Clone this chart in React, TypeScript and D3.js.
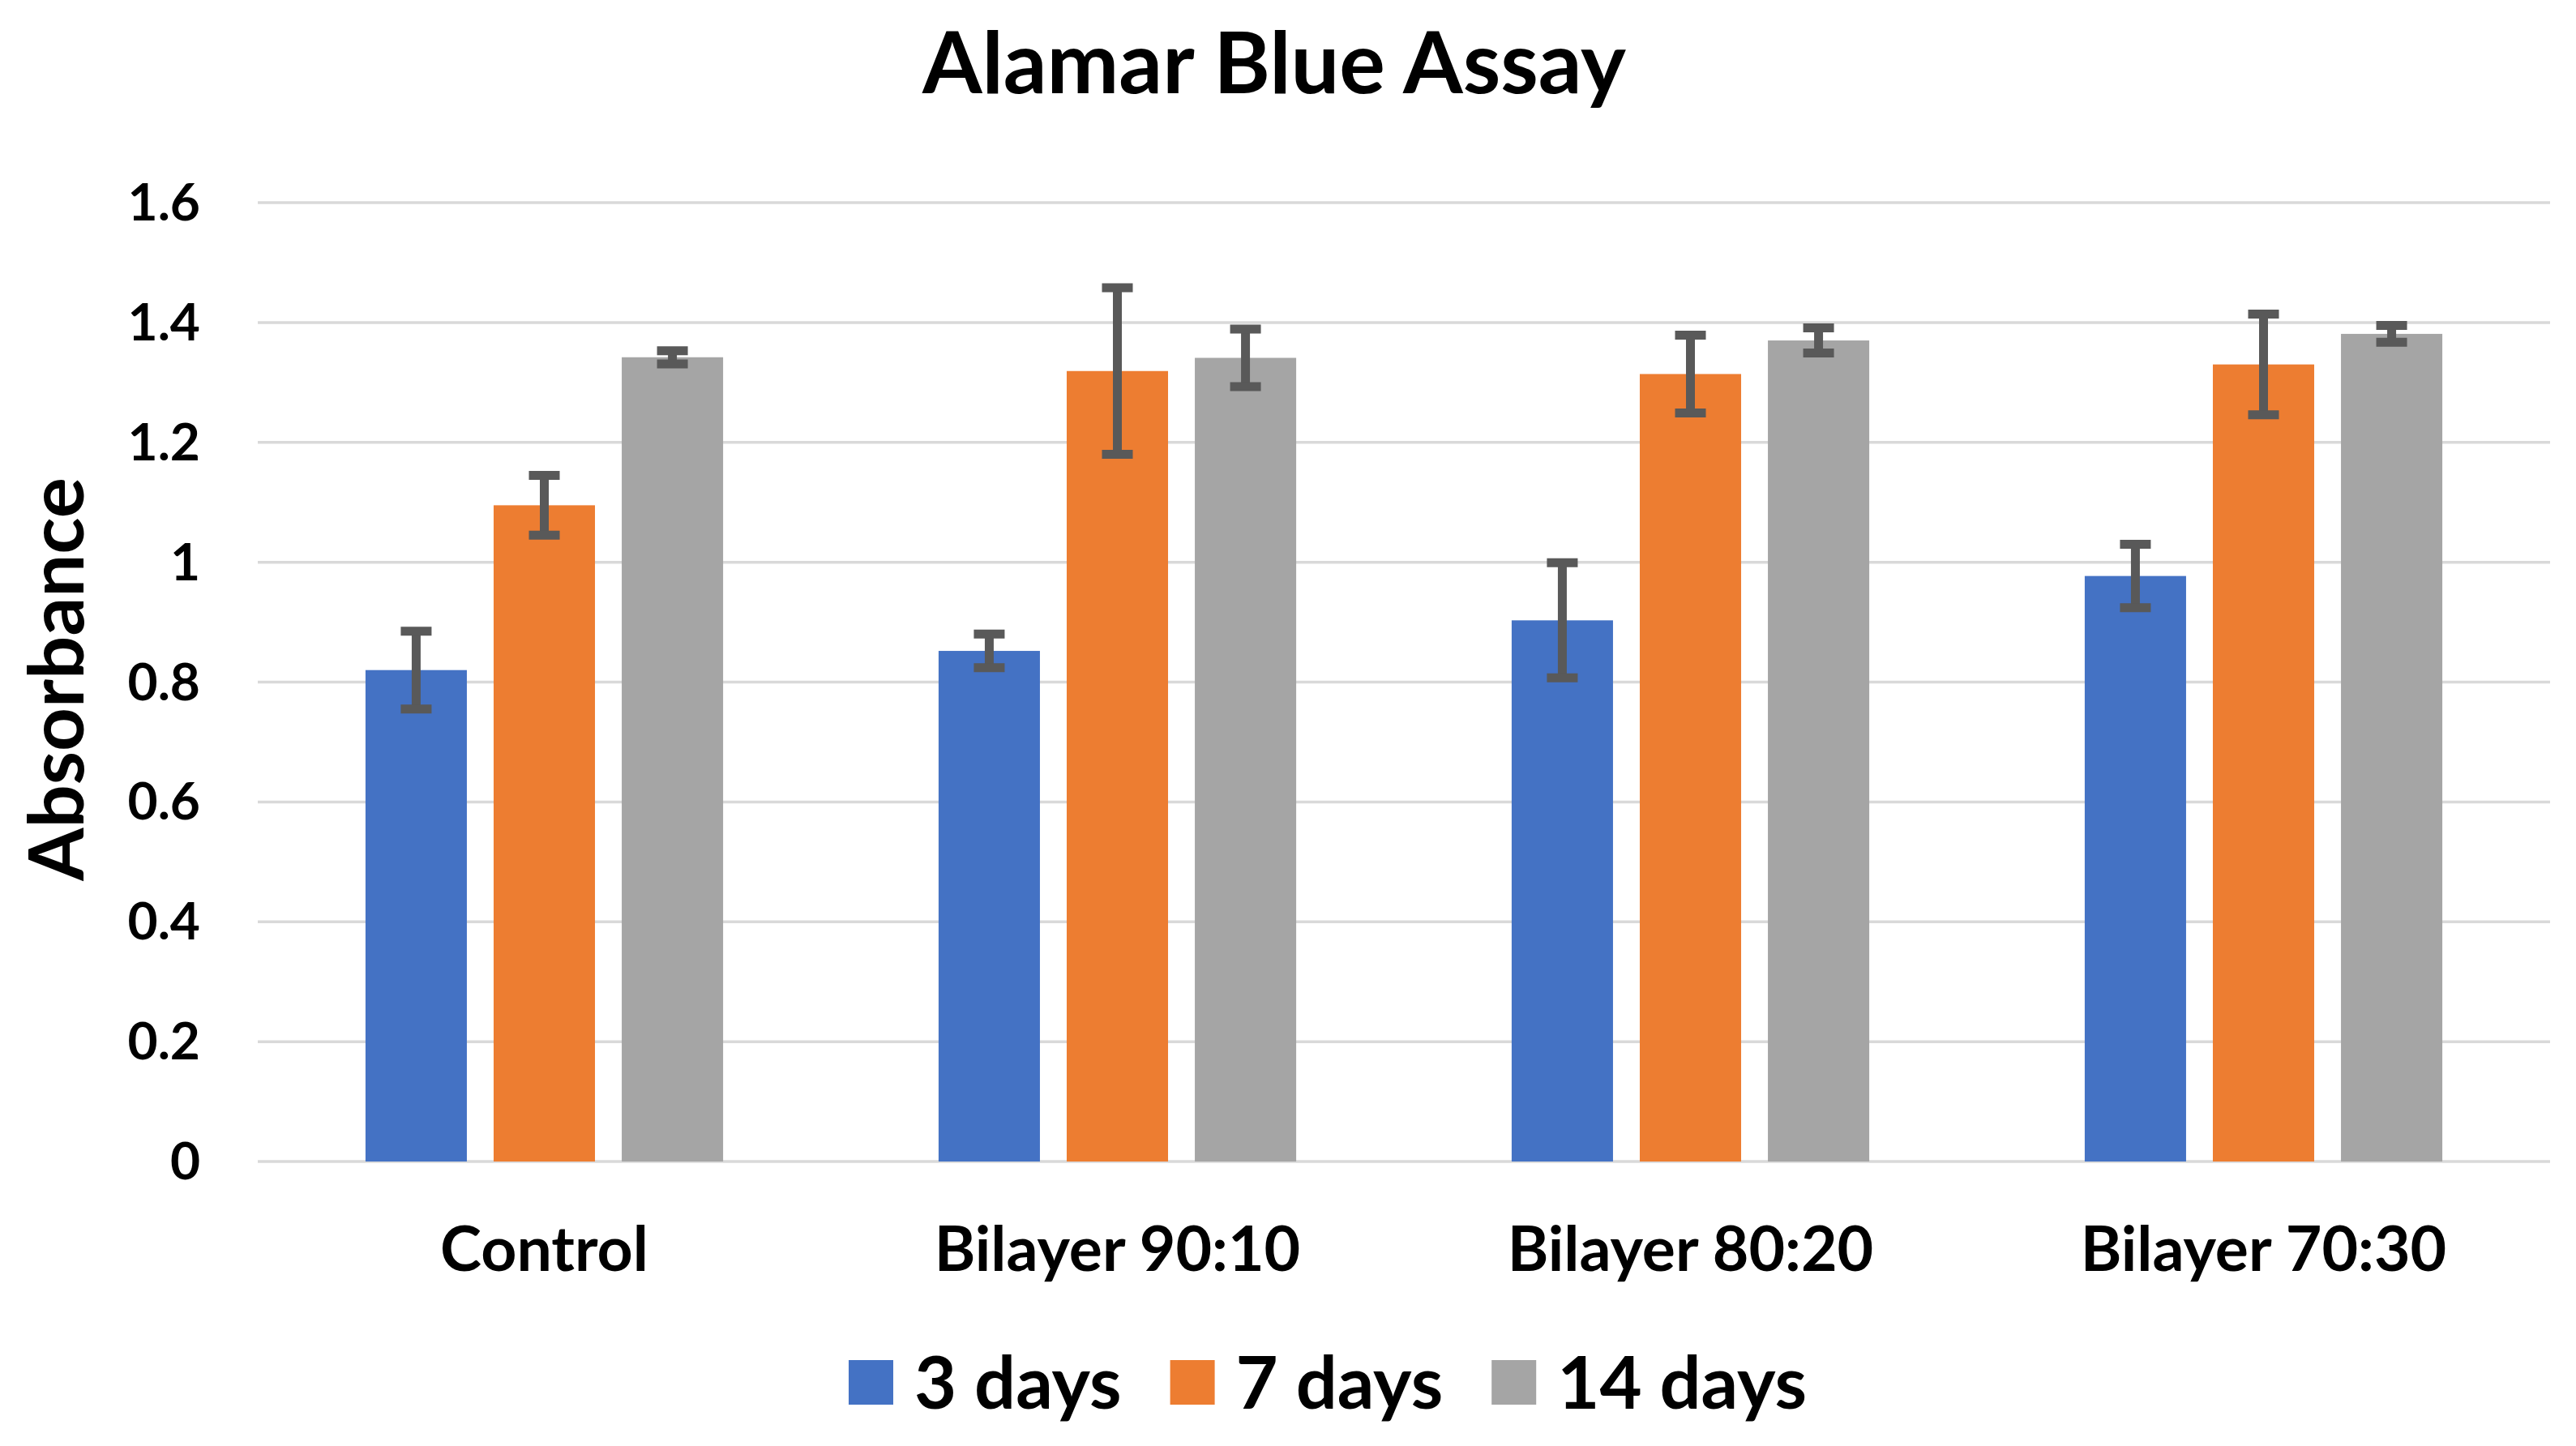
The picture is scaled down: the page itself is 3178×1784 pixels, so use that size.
import React, { useEffect, useRef } from "react";
import * as d3 from "d3";

const categories = ["Control", "Bilayer 90:10", "Bilayer 80:20", "Bilayer 70:30"];
const seriesNames = ["3 days", "7 days", "14 days"];
const seriesColors = ["#4472C4", "#ED7D31", "#A5A5A5"];
const days3 = [0.82, 0.852, 0.903, 0.977];
const days3Err = [0.065, 0.028, 0.096, 0.053];
const days7 = [1.095, 1.319, 1.314, 1.33];
const days7Err = [0.05, 0.139, 0.065, 0.084];
const days14 = [1.342, 1.341, 1.37, 1.381];
const days14Err = [0.011, 0.048, 0.021, 0.014];
const yTicks = [0, 0.2, 0.4, 0.6, 0.8, 1, 1.2, 1.4, 1.6];
const yTickLabels = ["0", "0.2", "0.4", "0.6", "0.8", "1", "1.2", "1.4", "1.6"];
const chartTitle = "Alamar Blue Assay";
const yAxisTitle = "Absorbance";

const W = 3178;
const H = 1784;
const FONT = "Lato, 'Open Sans', sans-serif";

export default function App() {
  const ref = useRef<SVGSVGElement | null>(null);

  useEffect(() => {
    const svg = d3.select(ref.current);
    svg.selectAll("*").remove();

    const values = [days3, days7, days14];
    const errs = [days3Err, days7Err, days14Err];
    const data = categories.map((c, i) => ({
      cat: c,
      items: seriesNames.map((s, j) => ({ s, j, v: values[j][i], e: errs[j][i] })),
    }));

    const plotLeft = 318;
    const plotRight = 3146;
    const plotTop = 250;
    const plotBottom = 1433;

    const x0 = d3.scaleBand<string>().domain(categories).range([plotLeft, plotRight]).padding(0);
    const groupW = x0.bandwidth();
    const outer = groupW * 0.188;
    const x1 = d3
      .scaleBand<string>()
      .domain(seriesNames)
      .range([outer, groupW - outer])
      .paddingInner(0.209)
      .paddingOuter(0);
    const y = d3.scaleLinear().domain([0, 1.6]).range([plotBottom, plotTop]);

    svg.append("rect").attr("width", W).attr("height", H).attr("fill", "#ffffff");

    // gridlines
    svg
      .append("g")
      .selectAll("line")
      .data(yTicks)
      .join("line")
      .attr("x1", plotLeft)
      .attr("x2", plotRight)
      .attr("y1", (d) => y(d))
      .attr("y2", (d) => y(d))
      .attr("stroke", "#D9D9D9")
      .attr("stroke-width", 3.5);

    // y tick labels
    svg
      .append("g")
      .selectAll("text")
      .data(yTicks)
      .join("text")
      .attr("x", 247)
      .attr("y", (d) => y(d) + 22)
      .attr("text-anchor", "end")
      .attr("font-family", FONT)
      .attr("font-weight", 700)
      .attr("font-size", 64)
      .attr("fill", "#000")
      .text((d, i) => yTickLabels[i]);

    // bars
    const groups = svg
      .append("g")
      .selectAll("g")
      .data(data)
      .join("g")
      .attr("transform", (d) => `translate(${x0(d.cat)},0)`);

    groups
      .selectAll("rect")
      .data((d) => d.items)
      .join("rect")
      .attr("x", (d) => x1(d.s)!)
      .attr("width", x1.bandwidth())
      .attr("y", (d) => y(d.v))
      .attr("height", (d) => y(0) - y(d.v))
      .attr("fill", (d) => seriesColors[d.j]);

    // error bars
    const capHalf = 19;
    const eb = groups
      .selectAll("g.err")
      .data((d) => d.items)
      .join("g")
      .attr("class", "err")
      .attr("stroke", "#595959")
      .attr("stroke-width", 11)
      .attr("fill", "none");
    eb.append("line")
      .attr("x1", (d) => x1(d.s)! + x1.bandwidth() / 2)
      .attr("x2", (d) => x1(d.s)! + x1.bandwidth() / 2)
      .attr("y1", (d) => y(d.v + d.e))
      .attr("y2", (d) => y(d.v - d.e));
    eb.append("line")
      .attr("x1", (d) => x1(d.s)! + x1.bandwidth() / 2 - capHalf)
      .attr("x2", (d) => x1(d.s)! + x1.bandwidth() / 2 + capHalf)
      .attr("y1", (d) => y(d.v + d.e))
      .attr("y2", (d) => y(d.v + d.e));
    eb.append("line")
      .attr("x1", (d) => x1(d.s)! + x1.bandwidth() / 2 - capHalf)
      .attr("x2", (d) => x1(d.s)! + x1.bandwidth() / 2 + capHalf)
      .attr("y1", (d) => y(d.v - d.e))
      .attr("y2", (d) => y(d.v - d.e));

    // category labels
    svg
      .append("g")
      .selectAll("text")
      .data(categories)
      .join("text")
      .attr("x", (d) => x0(d)! + groupW / 2)
      .attr("y", 1568)
      .attr("text-anchor", "middle")
      .attr("font-family", FONT)
      .attr("font-weight", 700)
      .attr("font-size", 77)
      .attr("fill", "#000")
      .text((d) => d);

    // title
    svg
      .append("text")
      .attr("x", 1572)
      .attr("y", 115)
      .attr("text-anchor", "middle")
      .attr("font-family", FONT)
      .attr("font-weight", 700)
      .attr("font-size", 106)
      .attr("fill", "#000")
      .text(chartTitle);

    // y axis title
    svg
      .append("text")
      .attr("transform", `translate(103,838) rotate(-90)`)
      .attr("text-anchor", "middle")
      .attr("font-family", FONT)
      .attr("font-weight", 700)
      .attr("font-size", 94)
      .attr("fill", "#000")
      .text(yAxisTitle);

    // legend
    const legend = svg.append("g");
    const keySize = 55;
    const keyGap = 26;
    const itemGap = 60;
    const items = legend
      .selectAll("g")
      .data(seriesNames)
      .join("g");
    items
      .append("rect")
      .attr("width", keySize)
      .attr("height", keySize)
      .attr("y", 1678)
      .attr("fill", (d, i) => seriesColors[i]);
    const texts = items
      .append("text")
      .attr("x", keySize + keyGap)
      .attr("y", 1738)
      .attr("font-family", FONT)
      .attr("font-weight", 700)
      .attr("font-size", 90)
      .attr("fill", "#000")
      .text((d) => d);
    const widths: number[] = [];
    texts.each(function () {
      widths.push((this as SVGTextElement).getComputedTextLength());
    });
    const itemWidths = widths.map((w) => keySize + keyGap + w);
    const total = d3.sum(itemWidths) + itemGap * (itemWidths.length - 1);
    let cx = 1638 - total / 2;
    items.attr("transform", (d, i) => {
      const t = `translate(${cx},0)`;
      cx += itemWidths[i] + itemGap;
      return t;
    });
  }, []);

  return (
    <svg
      ref={ref}
      width={W}
      height={H}
      style={{ position: "absolute", left: 0, top: 0, display: "block" }}
    />
  );
}
